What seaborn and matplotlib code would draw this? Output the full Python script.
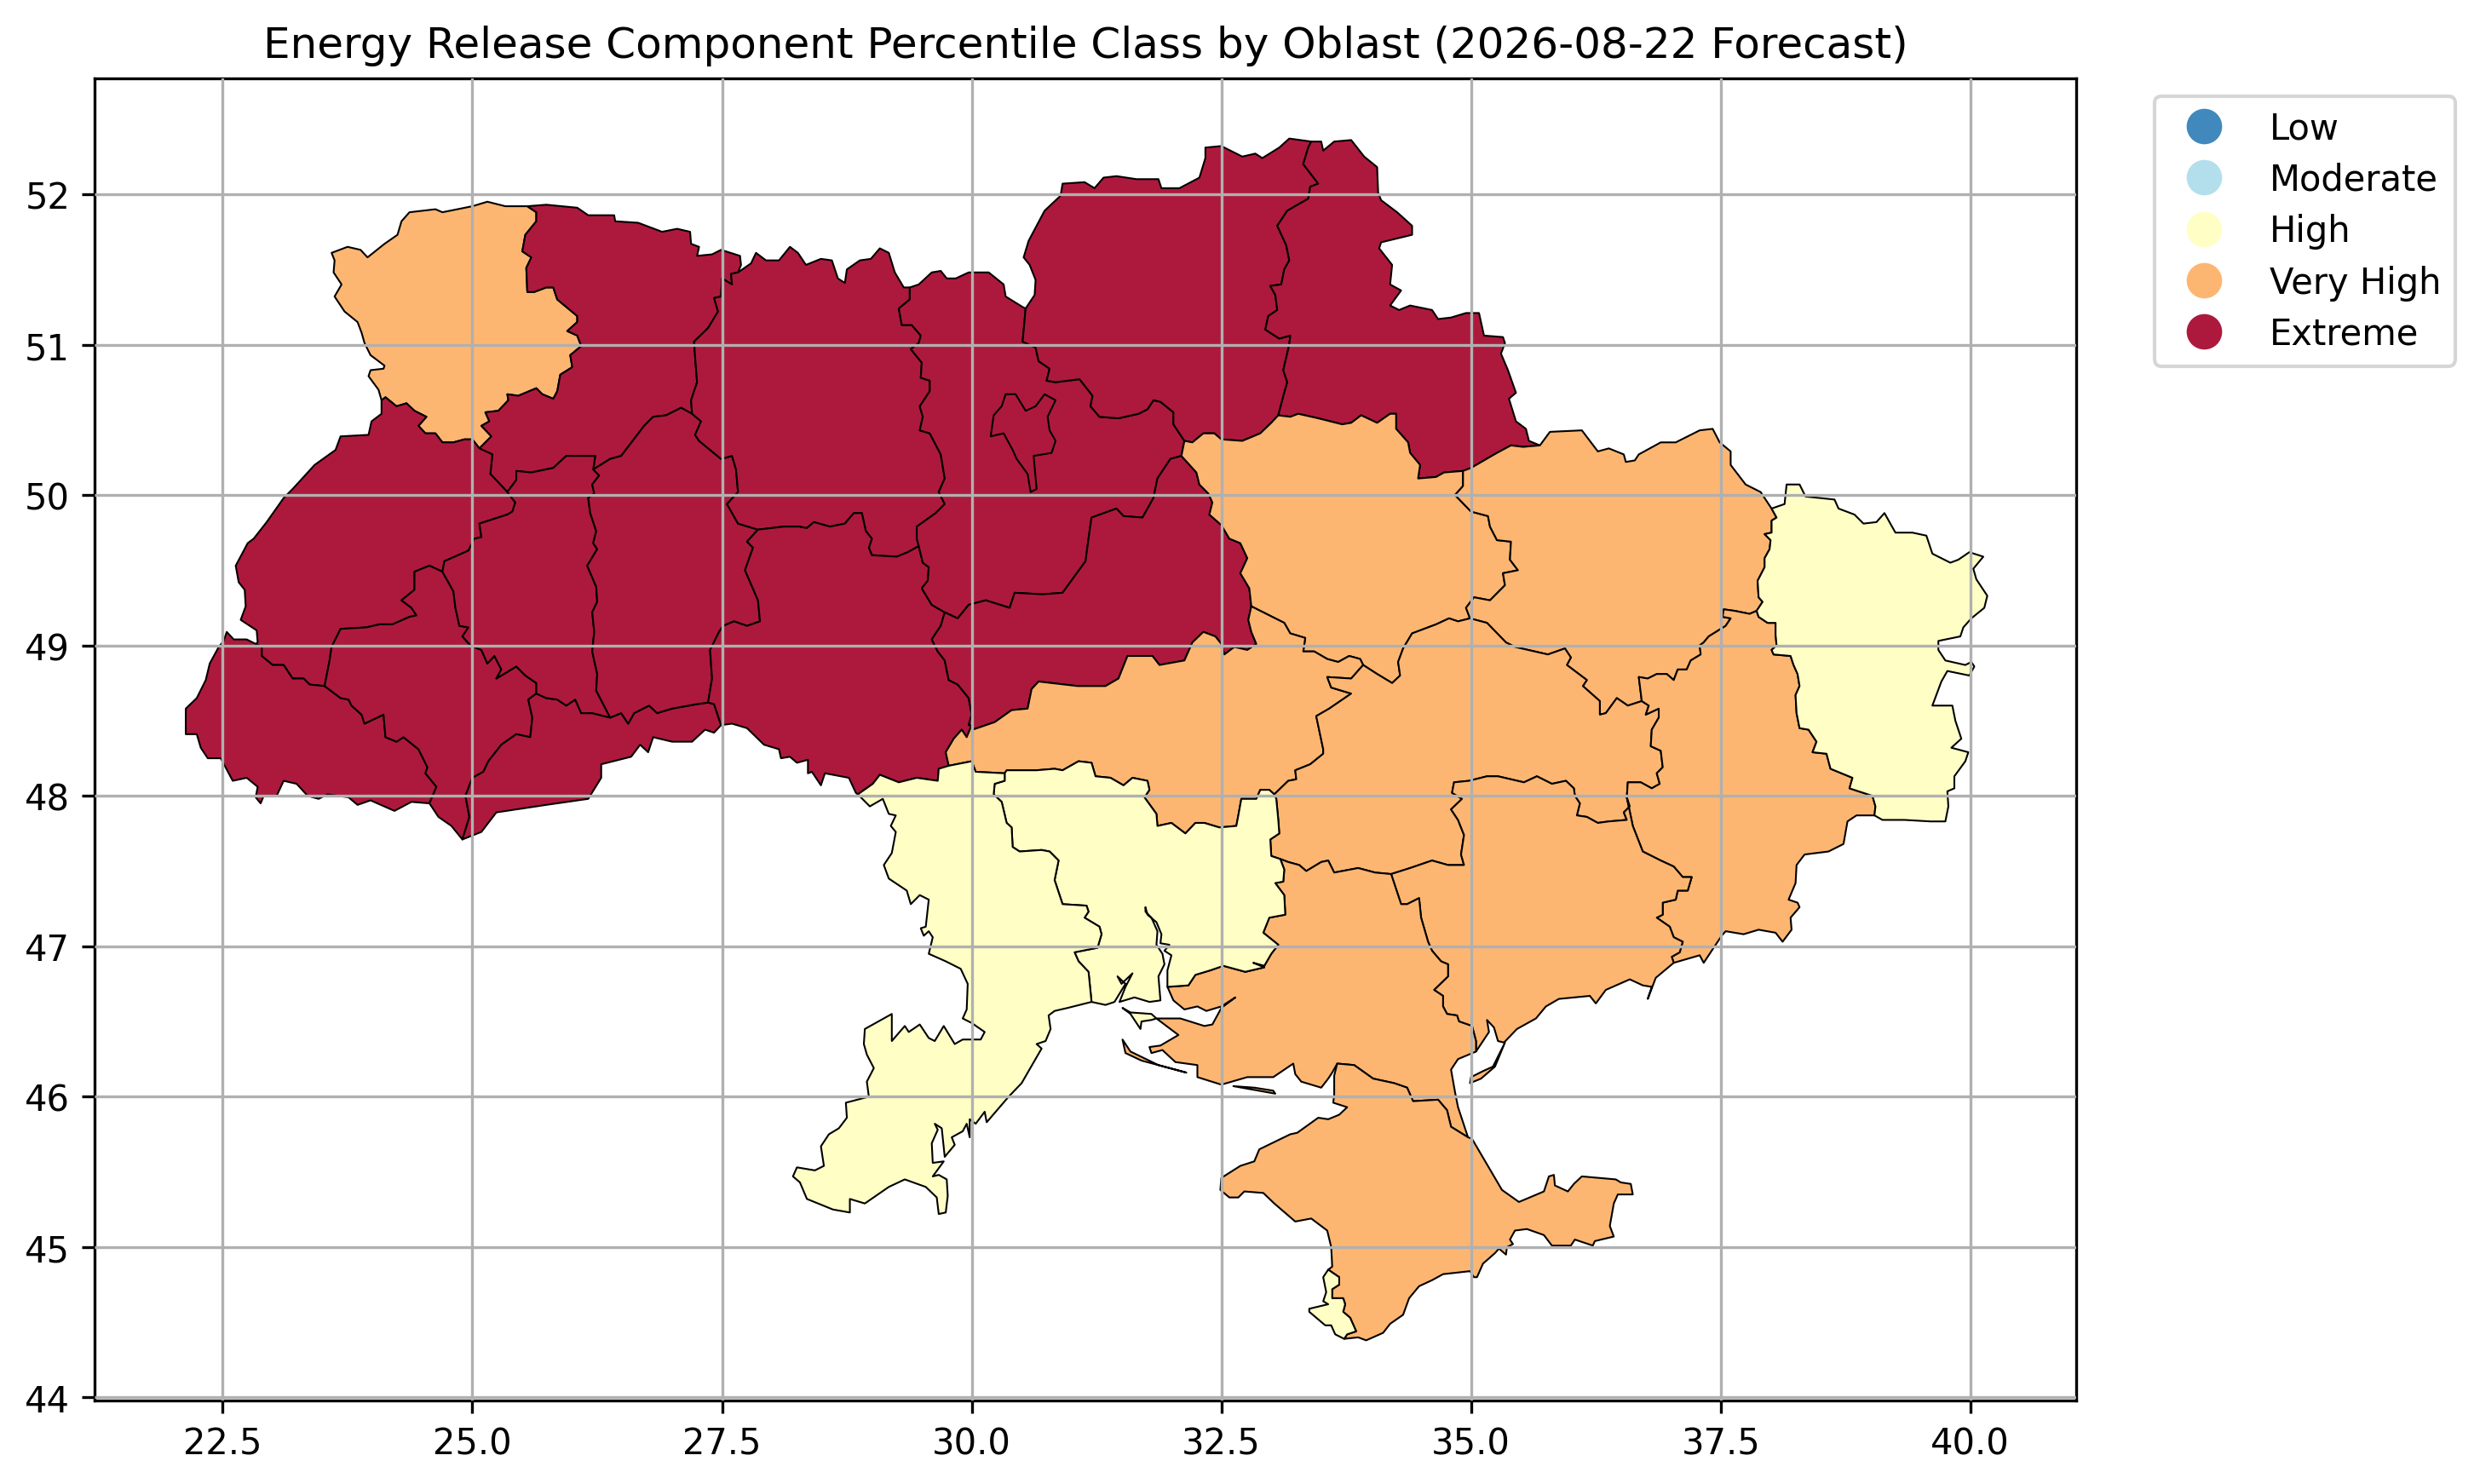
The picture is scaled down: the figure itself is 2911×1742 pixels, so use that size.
import matplotlib
matplotlib.use("Agg")
import matplotlib.pyplot as plt
from matplotlib.lines import Line2D
import seaborn as sns

TITLE = "Energy Release Component Percentile Class by Oblast (2026-08-22 Forecast)"
CLASSES = ["Low", "Moderate", "High", "Very High", "Extreme"]
CLASS_COLORS = ["#4189bd", "#b3dfed", "#ffffc5", "#fdb671", "#ad193c"]
XTICKS = [22.5, 25.0, 27.5, 30.0, 32.5, 35.0, 37.5, 40.0]
YTICKS = [44, 45, 46, 47, 48, 49, 50, 51, 52]

# Boundary arcs (lon, lat)
volyn_outer = [(24.09,50.63),(24.06,50.70),(23.96,50.79),(23.98,50.83),(24.11,50.84),(24.12,50.86),(23.98,50.93),(23.92,51.01),(23.89,51.08),(23.85,51.15),(23.72,51.22),(23.62,51.32),(23.69,51.40),(23.61,51.48),(23.62,51.56),(23.59,51.61),(23.75,51.65),(23.88,51.63),(23.95,51.58),(24.12,51.67),(24.25,51.73),(24.29,51.82),(24.37,51.88),(24.63,51.90),(24.70,51.88),(25.00,51.92),(25.15,51.95),(25.33,51.92),(25.55,51.92)]
volyn_rivne = [(25.55,51.92),(25.64,51.88),(25.64,51.82),(25.53,51.73),(25.50,51.62),(25.59,51.58),(25.54,51.51),(25.55,51.35),(25.62,51.35),(25.74,51.38),(25.81,51.38),(25.85,51.30),(26.05,51.19),(26.05,51.15),(25.95,51.09),(26.05,51.06),(26.09,50.99),(25.98,50.93),(26.00,50.85),(25.88,50.80),(25.85,50.69),(25.81,50.64),(25.70,50.67),(25.64,50.71),(25.46,50.66),(25.35,50.67),(25.36,50.63),(25.26,50.56),(25.13,50.55),(25.17,50.49),(25.09,50.46),(25.19,50.39),(25.07,50.31)]
volyn_lviv = [(25.07,50.31),(25.00,50.37),(24.92,50.37),(24.81,50.35),(24.70,50.35),(24.63,50.41),(24.53,50.41),(24.46,50.46),(24.54,50.52),(24.42,50.56),(24.34,50.61),(24.24,50.59),(24.13,50.65),(24.09,50.63)]
rivne_north = [(25.55,51.92),(25.74,51.93),(26.05,51.91),(26.16,51.86),(26.42,51.86),(26.43,51.82),(26.66,51.81),(26.90,51.75),(27.05,51.77),(27.18,51.75),(27.19,51.67),(27.27,51.65),(27.25,51.59),(27.40,51.60),(27.49,51.63),(27.68,51.59),(27.69,51.53),(27.66,51.48)]
rivne_zhyt = [(27.66,51.48),(27.59,51.47),(27.60,51.40),(27.50,51.44),(27.49,51.32),(27.42,51.31),(27.46,51.22),(27.36,51.11),(27.22,51.02),(27.23,50.92),(27.25,50.75),(27.19,50.63),(27.20,50.54)]
rivne_lviv = [(25.07,50.31),(25.20,50.27),(25.18,50.14),(25.35,50.02)]
rivne_tern = [(25.35,50.02),(25.44,50.10),(25.44,50.16),(25.59,50.15),(25.81,50.18),(25.94,50.26),(26.16,50.26),(26.23,50.26),(26.21,50.17)]
rivne_khm = [(26.21,50.17),(26.38,50.24),(26.49,50.26),(26.72,50.46),(26.81,50.52),(26.94,50.53),(27.09,50.58),(27.20,50.54)]
lviv_outer = [(24.09,50.63),(24.09,50.54),(23.99,50.49),(23.96,50.40),(23.68,50.39),(23.63,50.30),(23.42,50.20),(23.20,50.04),(23.11,49.98),(22.94,49.82),(22.81,49.71),(22.75,49.68),(22.63,49.53),(22.66,49.42),(22.72,49.37),(22.73,49.26),(22.68,49.17),(22.84,49.10),(22.85,49.02),(22.83,49.01)]
lviv_zak = [(22.83,49.01),(22.89,48.99),(22.89,48.93),(23.00,48.87),(23.11,48.87),(23.20,48.78),(23.31,48.78),(23.37,48.74),(23.52,48.73)]
lviv_if = [(23.52,48.73),(23.57,48.90),(23.59,48.99),(23.68,49.11),(23.94,49.12),(24.07,49.14),(24.20,49.14),(24.37,49.19),(24.44,49.20),(24.39,49.25),(24.29,49.30),(24.42,49.37),(24.42,49.49),(24.57,49.53),(24.70,49.49)]
lviv_tern = [(24.70,49.49),(24.72,49.56),(24.96,49.63),(25.02,49.71),(25.09,49.72),(25.07,49.81),(25.35,49.87),(25.40,49.89),(25.43,49.95),(25.35,50.02)]
zak_outer = [(22.83,49.01),(22.74,49.04),(22.61,49.04),(22.54,49.09),(22.51,49.03),(22.46,48.99),(22.37,48.88),(22.33,48.77),(22.24,48.65),(22.13,48.58),(22.13,48.41),(22.24,48.41),(22.28,48.32),(22.35,48.25),(22.48,48.25),(22.60,48.10),(22.74,48.12),(22.85,48.06),(22.83,47.99),(22.88,47.95),(22.91,48.00),(23.04,48.00),(23.11,48.10),(23.24,48.08),(23.35,48.00),(23.46,47.98),(23.55,48.01),(23.76,47.99),(23.85,47.94),(23.98,47.97),(24.22,47.90),(24.39,47.96),(24.57,47.95)]
zak_if = [(23.52,48.73),(23.68,48.65),(23.76,48.64),(23.79,48.60),(23.89,48.54),(23.92,48.48),(24.11,48.54),(24.13,48.39),(24.24,48.36),(24.31,48.39),(24.46,48.31),(24.55,48.19),(24.53,48.15),(24.64,48.06),(24.57,47.95)]
if_south = [(24.57,47.95),(24.66,47.86),(24.79,47.80),(24.90,47.71)]
if_tern = [(24.70,49.49),(24.81,49.36),(24.83,49.25),(24.87,49.13),(24.96,49.12),(24.90,49.06),(24.98,49.00),(25.09,48.97),(25.15,48.88),(25.22,48.93),(25.29,48.84),(25.24,48.78),(25.44,48.86),(25.53,48.80),(25.64,48.75),(25.64,48.68)]
if_chern = [(25.64,48.68),(25.56,48.64),(25.60,48.52),(25.58,48.39),(25.44,48.41),(25.29,48.34),(25.16,48.23),(25.11,48.16),(25.00,48.12),(24.93,48.00),(24.97,47.86),(24.90,47.71)]
chern_south = [(24.90,47.71),(25.09,47.76),(25.24,47.89),(25.74,47.94),(26.16,47.98),(26.29,48.12),(26.29,48.21),(26.59,48.26),(26.68,48.34),(26.76,48.29),(26.81,48.39),(27.00,48.36),(27.20,48.36),(27.33,48.44),(27.42,48.42),(27.49,48.47)]
tern_chern = [(25.64,48.68),(25.74,48.65),(25.85,48.64),(25.94,48.60),(26.03,48.64),(26.09,48.55),(26.20,48.55),(26.38,48.52)]
tern_khm = [(26.21,50.17),(26.27,50.13),(26.20,50.07),(26.22,50.01),(26.16,49.98),(26.18,49.88),(26.24,49.76),(26.21,49.68),(26.25,49.64),(26.15,49.53),(26.24,49.39),(26.25,49.29),(26.20,49.22),(26.22,49.09),(26.20,48.96),(26.25,48.81),(26.24,48.70),(26.38,48.52)]
khm_chern = [(26.38,48.52),(26.49,48.55),(26.56,48.48),(26.62,48.55),(26.77,48.60),(26.85,48.55),(27.00,48.58),(27.25,48.61),(27.36,48.62)]
chern_vinn = [(27.36,48.62),(27.42,48.61),(27.49,48.47)]
khm_vinn = [(27.36,48.62),(27.40,48.78),(27.38,48.97),(27.47,49.09),(27.51,49.13),(27.62,49.16),(27.75,49.13),(27.88,49.16),(27.86,49.30),(27.73,49.50),(27.81,49.65),(27.75,49.69),(27.86,49.77)]
khm_zhyt = [(27.86,49.77),(27.66,49.81),(27.55,49.94),(27.66,50.02),(27.64,50.17),(27.60,50.26),(27.49,50.24),(27.27,50.36),(27.23,50.40),(27.29,50.49),(27.20,50.54)]
zhyt_north = [(27.66,51.48),(27.79,51.54),(27.84,51.61),(27.94,51.56),(28.07,51.56),(28.18,51.65),(28.26,51.61),(28.34,51.53),(28.49,51.57),(28.60,51.56),(28.66,51.44),(28.73,51.41),(28.75,51.50),(28.88,51.56),(28.99,51.57),(29.08,51.64),(29.17,51.61),(29.23,51.48),(29.32,51.38),(29.38,51.38)]
zhyt_kyiv = [(29.38,51.38),(29.38,51.30),(29.27,51.24),(29.30,51.13),(29.40,51.13),(29.49,51.06),(29.47,51.01),(29.39,50.97),(29.50,50.88),(29.49,50.78),(29.58,50.76),(29.58,50.69),(29.48,50.59),(29.51,50.52),(29.48,50.43),(29.58,50.41),(29.69,50.27),(29.73,50.11),(29.67,50.02),(29.73,49.94),(29.64,49.88),(29.45,49.79),(29.45,49.71),(29.47,49.66)]
zhyt_vinn = [(27.86,49.77),(28.12,49.79),(28.27,49.79),(28.35,49.78),(28.42,49.82),(28.58,49.79),(28.73,49.81),(28.82,49.88),(28.90,49.88),(28.94,49.76),(29.00,49.71),(28.97,49.65),(29.00,49.60),(29.25,49.59),(29.36,49.62),(29.47,49.66)]
kyiv_vinn = [(29.47,49.66),(29.51,49.55),(29.57,49.52),(29.56,49.43),(29.50,49.38),(29.60,49.27),(29.73,49.22)]
vinn_cherk = [(29.73,49.22),(29.69,49.13),(29.60,49.04),(29.66,48.96),(29.73,48.90),(29.77,48.77),(29.86,48.74),(29.97,48.65),(30.00,48.54),(29.97,48.47),(30.00,48.47)]
vinn_south = [(27.49,48.47),(27.60,48.48),(27.75,48.45),(27.92,48.34),(28.07,48.31),(28.09,48.25),(28.18,48.26),(28.25,48.22),(28.36,48.24),(28.36,48.15),(28.40,48.16),(28.49,48.07),(28.53,48.15),(28.77,48.12),(28.84,48.02),(28.86,48.01)]
vinn_odesa = [(28.86,48.01),(29.01,48.08),(29.08,48.14),(29.27,48.09),(29.45,48.12),(29.66,48.10),(29.67,48.18),(29.77,48.20)]
vinn_kiro = [(29.77,48.20),(29.74,48.29),(29.82,48.38),(29.90,48.44),(29.95,48.39),(30.00,48.47)]
kyiv_city = [(30.19,50.39),(30.22,50.53),(30.30,50.59),(30.34,50.67),(30.44,50.67),(30.54,50.56),(30.64,50.59),(30.73,50.67),(30.84,50.63),(30.76,50.52),(30.78,50.43),(30.84,50.36),(30.80,50.28),(30.62,50.26),(30.65,50.04),(30.59,50.02),(30.56,50.14),(30.45,50.24),(30.41,50.30),(30.32,50.41)]
kyiv_north = [(29.38,51.38),(29.47,51.40),(29.60,51.48),(29.69,51.49),(29.75,51.44),(29.84,51.44),(29.97,51.48),(30.17,51.48),(30.32,51.40),(30.34,51.32),(30.51,51.25),(30.54,51.24)]
kyiv_chern = [(30.54,51.24),(30.51,51.02),(30.64,50.98),(30.67,50.89),(30.78,50.84),(30.75,50.76),(30.84,50.75),(31.08,50.77),(31.21,50.66),(31.19,50.59),(31.28,50.52),(31.47,50.51),(31.67,50.54),(31.76,50.57),(31.82,50.63),(31.89,50.62),(32.02,50.55),(32.02,50.47),(32.13,50.36)]
kyiv_polt = [(32.13,50.36),(32.10,50.26)]
kyiv_cherk = [(29.73,49.22),(29.86,49.18),(29.97,49.27),(30.14,49.30),(30.38,49.25),(30.43,49.35),(30.71,49.34),(30.91,49.35),(31.14,49.56),(31.17,49.71),(31.20,49.85),(31.45,49.91),(31.52,49.86),(31.71,49.85),(31.82,49.98),(31.86,50.11),(31.99,50.24),(32.10,50.26)]
cherk_polt = [(32.10,50.26),(32.25,50.15),(32.28,50.07),(32.37,50.01),(32.41,49.95),(32.38,49.87),(32.50,49.80),(32.58,49.71),(32.69,49.68),(32.76,49.58),(32.69,49.48),(32.78,49.38),(32.80,49.26)]
cherk_kiro = [(32.80,49.26),(32.77,49.17),(32.80,49.09),(32.85,49.01),(32.76,48.97),(32.63,48.99),(32.53,48.94),(32.50,49.01),(32.44,49.06),(32.32,49.09),(32.21,49.02),(32.13,48.90),(31.88,48.87),(31.81,48.93),(31.56,48.93),(31.47,48.78),(31.34,48.73),(31.06,48.73),(30.67,48.76),(30.60,48.71),(30.56,48.58),(30.40,48.57),(30.23,48.49),(30.01,48.44),(30.00,48.47)]
chern_north = [(30.54,51.24),(30.63,51.33),(30.64,51.43),(30.58,51.53),(30.52,51.58),(30.57,51.69),(30.65,51.79),(30.73,51.89),(30.89,51.99),(30.91,52.07),(31.13,52.08),(31.23,52.04),(31.32,52.11),(31.45,52.12),(31.65,52.10),(31.87,52.10),(31.90,52.04),(32.08,52.04),(32.28,52.11),(32.34,52.24),(32.34,52.31),(32.50,52.32),(32.71,52.25),(32.84,52.27),(32.91,52.24),(33.08,52.31),(33.18,52.37),(33.40,52.35)]
sumy_chern = [(33.07,50.53),(33.13,50.68),(33.16,50.75),(33.12,50.83),(33.18,51.00),(33.19,51.06),(33.08,51.04),(32.94,51.10),(32.97,51.19),(33.06,51.23),(33.04,51.33),(32.99,51.39),(33.10,51.40),(33.13,51.50),(33.18,51.56),(33.15,51.66),(33.06,51.79),(33.16,51.89),(33.37,51.97),(33.39,52.05),(33.47,52.07),(33.32,52.20),(33.37,52.31),(33.40,52.35)]
chern_polt = [(33.07,50.53),(33.00,50.48),(32.89,50.41),(32.71,50.36),(32.50,50.37),(32.43,50.41),(32.32,50.41),(32.21,50.35),(32.13,50.36)]
sumy_north = [(33.40,52.35),(33.50,52.35),(33.52,52.29),(33.63,52.35),(33.80,52.36),(33.93,52.25),(34.06,52.18),(34.07,52.01),(34.10,51.96),(34.26,51.88),(34.41,51.79),(34.41,51.73),(34.10,51.68),(34.08,51.64),(34.21,51.53),(34.19,51.40),(34.30,51.36),(34.19,51.26),(34.28,51.23),(34.39,51.26),(34.61,51.23),(34.67,51.17),(34.80,51.18),(34.95,51.21),(35.08,51.21),(35.13,51.06),(35.32,51.05),(35.34,51.01),(35.30,50.94),(35.37,50.83),(35.45,50.68),(35.38,50.64),(35.45,50.49),(35.55,50.44),(35.58,50.36),(35.69,50.33)]
sumy_khar = [(35.69,50.33),(35.52,50.32),(35.40,50.33),(35.26,50.28),(35.13,50.23),(35.00,50.18),(34.92,50.16)]
sumy_polt = [(34.92,50.16),(34.73,50.15),(34.65,50.12),(34.47,50.11),(34.49,50.20),(34.39,50.28),(34.37,50.35),(34.25,50.44),(34.25,50.54),(34.19,50.54),(34.06,50.48),(33.90,50.53),(33.80,50.48),(33.71,50.47),(33.47,50.51),(33.27,50.54),(33.19,50.52),(33.07,50.53)]
polt_khar = [(34.99,49.18),(34.95,49.25),(35.03,49.32),(35.19,49.30),(35.34,49.40),(35.32,49.48),(35.47,49.50),(35.39,49.57),(35.40,49.69),(35.26,49.70),(35.19,49.79),(35.17,49.86),(35.00,49.89),(34.84,50.00),(34.92,50.06),(34.92,50.16)]
polt_kiro = [(32.80,49.26),(33.13,49.15),(33.19,49.08),(33.34,49.05),(33.32,48.96),(33.43,48.96),(33.56,48.91),(33.67,48.89),(33.78,48.93),(33.89,48.91),(33.92,48.87)]
polt_dnip = [(33.92,48.87),(34.06,48.81),(34.21,48.75),(34.29,48.80),(34.27,48.89),(34.32,48.98),(34.41,49.08),(34.65,49.14),(34.78,49.18),(34.87,49.16),(34.99,49.18)]
khar_north = [(35.69,50.33),(35.79,50.42),(36.11,50.43),(36.27,50.29),(36.38,50.31),(36.53,50.27),(36.55,50.22),(36.64,50.23),(36.68,50.27),(36.90,50.35),(37.05,50.35),(37.29,50.43),(37.42,50.44),(37.49,50.35),(37.60,50.29),(37.60,50.20),(37.75,50.07),(37.90,50.02),(38.01,49.91)]
khar_luh = [(38.01,49.91),(38.06,49.85),(38.01,49.83),(38.01,49.75),(37.94,49.74),(38.00,49.70),(37.99,49.64),(37.94,49.58),(37.94,49.52),(37.87,49.43),(37.88,49.32),(37.92,49.29),(37.86,49.23)]
khar_don = [(37.86,49.23),(37.79,49.21),(37.64,49.23),(37.53,49.24),(37.52,49.19),(37.60,49.18),(37.55,49.13),(37.38,49.06),(37.33,49.02),(37.29,49.00),(37.30,48.94),(37.20,48.90),(37.16,48.84),(37.07,48.84),(37.03,48.77),(36.96,48.81),(36.86,48.81),(36.77,48.78),(36.68,48.79),(36.71,48.63)]
khar_dnip = [(34.99,49.18),(35.16,49.15),(35.35,49.02),(35.44,48.99),(35.77,48.94),(35.94,48.98),(36.00,48.92),(35.96,48.87),(36.16,48.77),(36.12,48.73),(36.29,48.63),(36.29,48.54),(36.35,48.55),(36.46,48.65),(36.57,48.60),(36.71,48.63)]
dnip_don = [(36.71,48.63),(36.78,48.60),(36.75,48.54),(36.88,48.58),(36.88,48.52),(36.81,48.44),(36.80,48.33),(36.90,48.30),(36.92,48.19),(36.86,48.15),(36.89,48.08),(36.81,48.05),(36.70,48.09),(36.57,48.09),(36.56,47.99)]
dnip_zap = [(36.56,47.99),(36.59,47.93),(36.53,47.89),(36.56,47.84),(36.38,47.83),(36.27,47.82),(36.16,47.86),(36.06,47.87),(36.09,47.95),(36.04,48.00),(36.03,48.05),(35.95,48.10),(35.81,48.08),(35.66,48.13),(35.53,48.09),(35.27,48.13),(35.16,48.13),(34.98,48.10),(34.83,48.09),(34.81,48.02),(34.91,47.98),(34.80,47.91),(34.87,47.84),(34.93,47.74),(34.90,47.61),(34.93,47.54),(34.77,47.54),(34.61,47.57),(34.39,47.52),(34.20,47.48)]
dnip_kher = [(33.09,47.58),(33.17,47.56),(33.28,47.54),(33.35,47.50),(33.50,47.56),(33.57,47.57),(33.63,47.49),(33.87,47.52),(34.04,47.49),(34.20,47.48)]
myk_dnip = [(33.09,47.58),(33.00,47.60),(32.99,47.71),(33.08,47.75),(33.07,47.84),(33.05,47.98),(33.03,48.01)]
kiro_dnip = [(33.03,48.01),(33.17,48.10),(33.25,48.11),(33.24,48.17),(33.39,48.21),(33.52,48.28),(33.52,48.31),(33.45,48.53),(33.58,48.58),(33.80,48.68),(33.60,48.72),(33.56,48.79),(33.80,48.78),(33.92,48.87)]
zap_don = [(36.56,47.99),(36.62,47.80),(36.72,47.63),(36.90,47.57),(37.03,47.53),(37.12,47.46),(37.21,47.46),(37.17,47.37),(37.07,47.37),(37.05,47.31),(36.92,47.29),(36.92,47.21),(36.86,47.19),(36.99,47.13),(37.03,47.06),(37.12,47.03),(37.09,46.96),(37.01,46.93),(37.03,46.89)]
don_coast = [(37.03,46.89),(37.29,46.94),(37.33,46.89),(37.51,47.07),(37.55,47.10),(37.73,47.08),(37.88,47.11),(38.05,47.09),(38.12,47.03),(38.21,47.11),(38.20,47.19),(38.29,47.26),(38.27,47.29),(38.18,47.31),(38.25,47.42),(38.26,47.54),(38.34,47.61),(38.58,47.63),(38.73,47.68),(38.77,47.83),(38.86,47.87),(39.04,47.87)]
don_luh = [(39.04,47.87),(39.05,47.93),(39.02,48.00),(38.79,48.05),(38.82,48.12),(38.60,48.18),(38.56,48.28),(38.42,48.29),(38.46,48.36),(38.38,48.44),(38.29,48.45),(38.26,48.55),(38.25,48.67),(38.29,48.73),(38.27,48.81),(38.23,48.87),(38.20,48.93),(38.03,48.94),(38.01,48.97),(38.06,49.00),(38.05,49.07),(38.05,49.15),(37.97,49.15),(37.88,49.19),(37.86,49.23)]
luh_outer = [(38.01,49.91),(38.14,49.94),(38.16,50.07),(38.29,50.07),(38.35,49.99),(38.64,49.97),(38.68,49.91),(38.84,49.87),(38.93,49.81),(39.06,49.82),(39.14,49.88),(39.25,49.75),(39.42,49.75),(39.56,49.73),(39.62,49.61),(39.80,49.55),(39.88,49.57),(39.99,49.62),(40.13,49.59),(40.03,49.51),(40.06,49.44),(40.17,49.33),(40.14,49.25),(40.01,49.18),(39.93,49.12),(39.90,49.06),(39.68,49.03),(39.68,48.97),(39.75,48.90),(39.95,48.87),(40.01,48.89),(40.04,48.86),(39.99,48.80),(39.77,48.83),(39.71,48.76),(39.62,48.60),(39.82,48.60),(39.85,48.50),(39.91,48.38),(39.81,48.32),(39.98,48.29),(39.95,48.23),(39.84,48.13),(39.84,48.05),(39.77,48.03),(39.78,47.93),(39.75,47.83),(39.60,47.83),(39.34,47.84),(39.12,47.84),(39.04,47.87)]
kher_zap = [(34.20,47.48),(34.30,47.28),(34.36,47.28),(34.48,47.32),(34.50,47.19),(34.57,47.03),(34.61,46.97),(34.70,46.90),(34.77,46.88),(34.77,46.80),(34.63,46.71),(34.72,46.67),(34.72,46.60),(34.76,46.55),(34.86,46.54),(34.88,46.50),(35.01,46.47),(35.05,46.37),(35.05,46.30)]
zap_coast = [(35.05,46.30),(35.18,46.43),(35.16,46.51),(35.23,46.46),(35.27,46.37),(35.33,46.36),(35.46,46.45),(35.65,46.52),(35.75,46.60),(35.88,46.65),(36.19,46.67),(36.25,46.62),(36.35,46.71),(36.59,46.78),(36.72,46.74),(36.81,46.73),(36.77,46.65),(36.85,46.79),(37.03,46.89)]
kher_sivash = [(35.05,46.30),(34.87,46.25),(34.80,46.18),(34.84,46.03),(34.87,45.93),(34.97,45.73)]
crimea_kher = [(33.66,46.22),(33.83,46.21),(34.02,46.12),(34.23,46.09),(34.36,46.06),(34.42,45.97),(34.67,45.98),(34.76,45.91),(34.80,45.80),(34.97,45.73)]
kher_coast = [(31.96,46.73),(32.02,46.64),(32.13,46.58),(32.26,46.60),(32.35,46.57),(32.50,46.60),(32.64,46.66),(32.50,46.59),(32.41,46.48),(32.33,46.47),(32.09,46.52),(31.85,46.52),(32.07,46.41),(31.89,46.34),(31.78,46.33),(31.80,46.29),(31.91,46.31),(32.04,46.23),(32.26,46.21),(32.26,46.13),(32.50,46.08),(32.76,46.13),(33.02,46.13),(33.22,46.22),(33.24,46.15),(33.30,46.10),(33.50,46.06),(33.57,46.12),(33.61,46.16),(33.66,46.22)]
myk_kher = [(33.09,47.58),(33.13,47.51),(33.12,47.43),(33.04,47.42),(33.13,47.34),(33.14,47.21),(32.98,47.19),(32.92,47.09),(33.07,47.01),(33.00,46.95),(32.93,46.87),(32.82,46.89),(32.93,46.86),(32.74,46.83),(32.52,46.87),(32.39,46.84),(32.24,46.81),(32.17,46.74),(31.96,46.73)]
myk_kiro = [(33.03,48.01),(32.98,48.04),(32.89,48.04),(32.85,47.98),(32.70,47.98),(32.67,47.87),(32.65,47.80),(32.48,47.79),(32.33,47.82),(32.24,47.82),(32.14,47.75),(32.00,47.82),(31.86,47.80),(31.85,47.88),(31.73,47.99),(31.78,48.04),(31.76,48.10),(31.61,48.12),(31.52,48.07),(31.39,48.12),(31.24,48.13),(31.20,48.22),(31.07,48.23),(30.91,48.17),(30.83,48.18),(30.65,48.17),(30.35,48.17),(30.33,48.15)]
odesa_kiro = [(30.33,48.15),(30.04,48.16),(30.00,48.23),(29.77,48.20)]
odesa_myk = [(30.33,48.15),(30.33,48.10),(30.23,48.08),(30.22,48.01),(30.30,47.96),(30.35,47.82),(30.40,47.79),(30.41,47.66),(30.48,47.63),(30.70,47.64),(30.78,47.63),(30.87,47.57),(30.83,47.44),(30.91,47.28),(31.15,47.27),(31.17,47.23),(31.13,47.19),(31.28,47.13),(31.30,47.08),(31.26,46.99),(31.03,46.96),(31.07,46.90),(31.17,46.83),(31.20,46.63)]
myk_coast = [(31.20,46.63),(31.34,46.61),(31.43,46.63),(31.54,46.75),(31.46,46.80),(31.50,46.75),(31.61,46.82),(31.54,46.73),(31.48,46.63),(31.63,46.66),(31.78,46.63),(31.89,46.64),(31.87,46.80),(31.93,46.88),(31.91,46.95),(31.85,47.01),(31.86,47.10),(31.80,47.19),(31.74,47.23),(31.74,47.26),(31.76,47.21),(31.85,47.16),(31.90,47.08),(31.89,47.02),(31.98,47.01),(31.93,46.97),(32.00,46.94),(31.96,46.84),(31.96,46.73)]
odesa_west = [(28.86,48.01),(28.98,47.93),(29.11,47.98),(29.17,47.88),(29.24,47.87),(29.19,47.80),(29.24,47.76),(29.20,47.62),(29.12,47.54),(29.17,47.45),(29.35,47.37),(29.39,47.28),(29.48,47.34),(29.57,47.31),(29.54,47.13),(29.49,47.12),(29.52,47.07),(29.57,47.10),(29.61,47.06),(29.57,46.95),(29.74,46.90),(29.89,46.85),(29.96,46.75),(29.95,46.58),(29.91,46.52),(30.00,46.49),(30.13,46.43),(30.09,46.38),(29.91,46.38),(29.83,46.35),(29.72,46.47),(29.63,46.37),(29.57,46.39),(29.48,46.48),(29.37,46.43),(29.33,46.47),(29.20,46.37),(29.20,46.55),(28.93,46.45),(28.92,46.35),(28.95,46.28),(29.02,46.19),(28.95,46.10),(28.97,46.00),(28.74,45.96),(28.75,45.86),(28.67,45.79),(28.57,45.75),(28.49,45.67),(28.52,45.54),(28.43,45.51),(28.25,45.53),(28.21,45.47),(28.28,45.43),(28.35,45.32),(28.61,45.25),(28.78,45.23),(28.78,45.32),(28.93,45.29),(29.17,45.40),(29.33,45.45),(29.54,45.40),(29.65,45.33),(29.67,45.22),(29.74,45.23),(29.76,45.34),(29.75,45.45),(29.67,45.48),(29.61,45.47),(29.72,45.57),(29.61,45.56),(29.60,45.69),(29.66,45.78),(29.63,45.82),(29.70,45.79),(29.73,45.60),(29.83,45.68),(29.80,45.73),(29.91,45.77),(29.95,45.82),(29.98,45.73),(29.98,45.85),(30.04,45.82),(30.13,45.90),(30.15,45.83),(30.37,46.00),(30.50,46.09),(30.70,46.32),(30.65,46.35),(30.74,46.37),(30.79,46.45),(30.77,46.54),(30.83,46.57),(30.96,46.59),(31.20,46.63)]
crimea_nw = [(33.66,46.22),(33.63,46.14),(33.63,46.01),(33.62,45.96),(33.76,45.93),(33.68,45.88),(33.57,45.85),(33.47,45.86),(33.26,45.76),(33.19,45.75),(32.88,45.65),(32.83,45.57),(32.69,45.54),(32.50,45.46),(32.49,45.38),(32.58,45.33),(32.67,45.33),(32.73,45.37),(32.92,45.36),(33.03,45.29),(33.24,45.17),(33.40,45.19),(33.56,45.11),(33.60,45.00),(33.61,44.87),(33.57,44.85)]
crimea_sev = [(33.57,44.85),(33.68,44.80),(33.68,44.75),(33.61,44.72),(33.61,44.66),(33.72,44.66),(33.74,44.62),(33.72,44.57),(33.79,44.53),(33.85,44.44),(33.76,44.42)]
sev_coast = [(33.57,44.85),(33.52,44.80),(33.55,44.70),(33.52,44.64),(33.57,44.62),(33.38,44.59),(33.38,44.57),(33.54,44.48),(33.60,44.48),(33.64,44.42),(33.73,44.39),(33.76,44.42)]
crimea_se = [(33.76,44.42),(33.73,44.39),(33.87,44.40),(33.95,44.38),(34.12,44.43),(34.19,44.49),(34.32,44.55),(34.38,44.66),(34.48,44.74),(34.61,44.78),(34.72,44.82),(34.99,44.84),(35.03,44.80),(35.06,44.80),(35.12,44.89),(35.24,44.96),(35.28,44.99),(35.35,44.95),(35.36,45.00),(35.42,45.02),(35.39,45.05),(35.44,45.11),(35.56,45.12),(35.73,45.08),(35.81,45.01),(36.00,45.01),(36.04,45.05),(36.22,45.01),(36.24,45.04),(36.43,45.07),(36.39,45.14),(36.43,45.29),(36.47,45.35),(36.62,45.35),(36.60,45.42),(36.50,45.43),(36.45,45.45),(36.28,45.46),(36.11,45.47),(36.03,45.42),(35.97,45.37),(35.84,45.41),(35.83,45.48),(35.78,45.47),(35.73,45.37),(35.48,45.30),(35.31,45.38),(35.01,45.72),(34.97,45.73)]
arabat_spit = [(34.99,46.09),(35.00,46.13),(35.12,46.17),(35.22,46.20),(35.34,46.36),(35.24,46.20),(35.10,46.12)]
tendra_spit = [(31.51,46.38),(31.54,46.29),(31.70,46.24),(32.15,46.16),(31.87,46.21),(31.59,46.30)]
dzharylhach = [(32.62,46.07),(33.04,46.02),(33.02,46.04),(32.83,46.06)]
kinburn_tip = [(31.51,46.59),(31.59,46.55),(31.69,46.45),(31.70,46.50),(31.80,46.51),(31.85,46.52),(31.80,46.55),(31.59,46.56)]

def rev(arc):
    return arc[::-1]

OBLASTS = [
    ("Volyn", "Very High", [volyn_outer, volyn_rivne, volyn_lviv]),
    ("Rivne", "Extreme", [rivne_north, rivne_zhyt, rev(rivne_khm), rev(rivne_tern), rev(rivne_lviv), rev(volyn_rivne)]),
    ("Lviv", "Extreme", [lviv_outer, lviv_zak, lviv_if, lviv_tern, rev(rivne_lviv), volyn_lviv]),
    ("Zakarpattia", "Extreme", [zak_outer, rev(zak_if), rev(lviv_zak)]),
    ("Ivano-Frankivsk", "Extreme", [lviv_if, if_tern, if_chern, rev(if_south), rev(zak_if)]),
    ("Chernivtsi", "Extreme", [rev(if_chern), tern_chern, khm_chern, chern_vinn, rev(chern_south)]),
    ("Ternopil", "Extreme", [lviv_tern, rivne_tern, tern_khm, rev(tern_chern), rev(if_tern)]),
    ("Khmelnytskyi", "Extreme", [rivne_khm, rev(khm_zhyt), rev(khm_vinn), rev(khm_chern), rev(tern_khm)]),
    ("Zhytomyr", "Extreme", [zhyt_north, zhyt_kyiv, rev(zhyt_vinn), khm_zhyt, rev(rivne_zhyt)]),
    ("Vinnytsia", "Extreme", [zhyt_vinn, kyiv_vinn, vinn_cherk, rev(vinn_kiro), rev(vinn_odesa), rev(vinn_south), rev(chern_vinn), khm_vinn]),
    ("Kyiv Oblast", "Extreme", [kyiv_north, kyiv_chern, kyiv_polt, rev(kyiv_cherk), rev(kyiv_vinn), rev(zhyt_kyiv)]),
    ("Kyiv City", "Extreme", [kyiv_city]),
    ("Cherkasy", "Extreme", [kyiv_cherk, cherk_polt, cherk_kiro, rev(vinn_cherk)]),
    ("Chernihiv", "Extreme", [chern_north, rev(sumy_chern), chern_polt, rev(kyiv_chern)]),
    ("Sumy", "Extreme", [sumy_north, sumy_khar, sumy_polt, sumy_chern]),
    ("Poltava", "Very High", [rev(sumy_polt), rev(polt_khar), rev(polt_dnip), rev(polt_kiro), rev(cherk_polt), rev(kyiv_polt), rev(chern_polt)]),
    ("Kharkiv", "Very High", [rev(sumy_khar), khar_north, khar_luh, khar_don, rev(khar_dnip), polt_khar]),
    ("Kirovohrad", "Very High", [vinn_kiro, rev(cherk_kiro), polt_kiro, rev(kiro_dnip), myk_kiro, odesa_kiro]),
    ("Dnipropetrovsk", "Very High", [polt_dnip, khar_dnip, dnip_don, dnip_zap, rev(dnip_kher), myk_dnip, kiro_dnip]),
    ("Donetsk", "Very High", [dnip_don, zap_don, don_coast, don_luh, khar_don]),
    ("Luhansk", "High", [luh_outer, don_luh, rev(khar_luh)]),
    ("Zaporizhzhia", "Very High", [rev(dnip_zap), zap_don, rev(zap_coast), rev(kher_zap)]),
    ("Kherson", "Very High", [dnip_kher, kher_zap, kher_sivash, rev(crimea_kher), rev(kher_coast), rev(myk_kher)]),
    ("Mykolaiv", "High", [myk_kiro, odesa_myk, myk_coast, rev(myk_kher), myk_dnip]),
    ("Odesa", "High", [odesa_west, rev(odesa_myk), odesa_kiro, rev(vinn_odesa)]),
    ("Crimea", "Very High", [crimea_nw, crimea_sev, crimea_se, rev(crimea_kher)]),
    ("Sevastopol", "High", [sev_coast, rev(crimea_sev)]),
    ("Arabat Spit", "Very High", [arabat_spit]),
    ("Tendra Spit", "Very High", [tendra_spit]),
    ("Dzharylhach", "Very High", [dzharylhach]),
    ("Kinburn Tip", "High", [kinburn_tip]),
]

sns.set_theme(style="ticks", rc={
    "font.family": "DejaVu Sans", "font.size": 10, "axes.titlesize": 12,
    "xtick.labelsize": 10, "ytick.labelsize": 10, "legend.fontsize": 10,
    "axes.edgecolor": "black", "axes.linewidth": 0.8, "text.color": "black",
    "xtick.color": "black", "ytick.color": "black", "xtick.major.size": 3.5,
    "ytick.major.size": 3.5, "xtick.major.width": 0.8, "ytick.major.width": 0.8,
    "axes.grid": True, "grid.color": "#b0b0b0", "grid.linewidth": 0.8,
})
palette = dict(zip(CLASSES, sns.color_palette(CLASS_COLORS)))

W, H = 2911, 1743
fig = plt.figure(figsize=(W / 300, H / 300), dpi=300)
ax = fig.add_axes([111.4 / W, 1 - 1645 / H, (2437 - 111.4) / W, (1645 - 93) / H])

for name, cls, arcs in OBLASTS:
    pts = [p for arc in arcs for p in arc]
    lons, lats = zip(*pts)
    ax.fill(lons, lats, facecolor=palette[cls], edgecolor="black",
            linewidth=0.5, joinstyle="round", zorder=1)

ax.set_axisbelow(False)
ax.set_xlim(21.22, 41.06)
ax.set_ylim(43.98, 52.77)
ax.set_xticks(XTICKS)
ax.set_yticks(YTICKS)
ax.set_title(TITLE, fontsize=12)
handles = [Line2D([], [], linestyle="none", marker="o", markersize=10,
                  markerfacecolor=palette[c], markeredgecolor="none", label=c)
           for c in CLASSES]
ax.legend(handles=handles, loc="upper left", bbox_to_anchor=(1.0305, 1.0), frameon=True,
          framealpha=0.8, edgecolor="0.8", fancybox=True, labelspacing=0.44, handletextpad=0.84)
sns.despine(ax=ax, top=False, right=False)
fig.savefig("out.png", dpi=300)
